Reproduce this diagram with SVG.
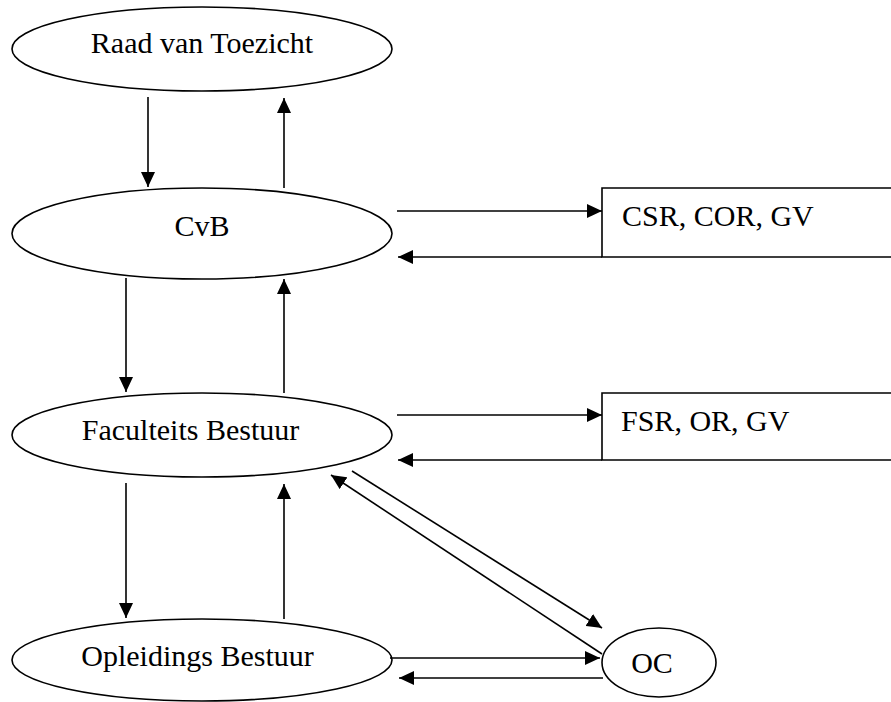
<svg xmlns="http://www.w3.org/2000/svg" width="891" height="702" viewBox="0 0 891 702">
<style>
.n{fill:#fff;stroke:#000;stroke-width:1.6}
.t{font-family:"Liberation Serif","Times New Roman",serif;font-size:30px;fill:#000}
.c{stroke:#000;stroke-width:1.6;fill:none;marker-end:url(#ah)}
.b{stroke:#000;stroke-width:1.6;fill:none}
</style>
<defs>
<marker id="ah" markerUnits="userSpaceOnUse" markerWidth="15" markerHeight="14" refX="15" refY="7" orient="auto">
<path d="M0,0 L15,7 L0,14 z" fill="#000"/>
</marker>
</defs>
<rect width="891" height="702" fill="#fff"/>
<g id="raad">
<ellipse class="n" cx="202" cy="49" rx="190" ry="42"/>
<text class="t" x="202" y="53" text-anchor="middle">Raad van Toezicht</text>
</g>
<g id="cvb">
<ellipse class="n" cx="202" cy="233.5" rx="190" ry="45.5"/>
<text class="t" x="202" y="236" text-anchor="middle">CvB</text>
</g>
<g id="faculteits">
<ellipse class="n" cx="202" cy="435" rx="190" ry="42"/>
<text class="t" x="190.5" y="440" text-anchor="middle">Faculteits Bestuur</text>
</g>
<g id="opleidings">
<ellipse class="n" cx="202" cy="660" rx="190" ry="41"/>
<text class="t" x="197.5" y="666" text-anchor="middle">Opleidings Bestuur</text>
</g>
<g id="oc">
<ellipse class="n" cx="659" cy="662.5" rx="57" ry="34.5"/>
<text class="t" x="652" y="673" text-anchor="middle">OC</text>
</g>
<g id="csr">
<path class="b" d="M895,188 H602 V257 H895"/>
<text class="t" x="622" y="226">CSR, COR, GV</text>
</g>
<g id="fsr">
<path class="b" d="M895,393 H602 V460 H895"/>
<text class="t" x="621" y="431">FSR, OR, GV</text>
</g>
<g id="connectors">
<line class="c" x1="148" y1="97" x2="148" y2="187"/>
<line class="c" x1="284" y1="188" x2="284" y2="98"/>
<line class="c" x1="126" y1="278" x2="126" y2="392"/>
<line class="c" x1="284" y1="393" x2="284" y2="279"/>
<line class="c" x1="126" y1="483" x2="126" y2="618"/>
<line class="c" x1="284" y1="619" x2="284" y2="484"/>
<line class="c" x1="397" y1="211" x2="602" y2="211"/>
<line class="c" x1="602" y1="257" x2="398" y2="257"/>
<line class="c" x1="397" y1="415" x2="602" y2="415"/>
<line class="c" x1="602" y1="460" x2="398" y2="460"/>
<line class="c" x1="352" y1="471" x2="602" y2="628"/>
<line class="c" x1="602" y1="654" x2="331" y2="475"/>
<line class="c" x1="390" y1="658" x2="600" y2="658"/>
<line class="c" x1="603" y1="678" x2="399" y2="678"/>
</g>
</svg>
